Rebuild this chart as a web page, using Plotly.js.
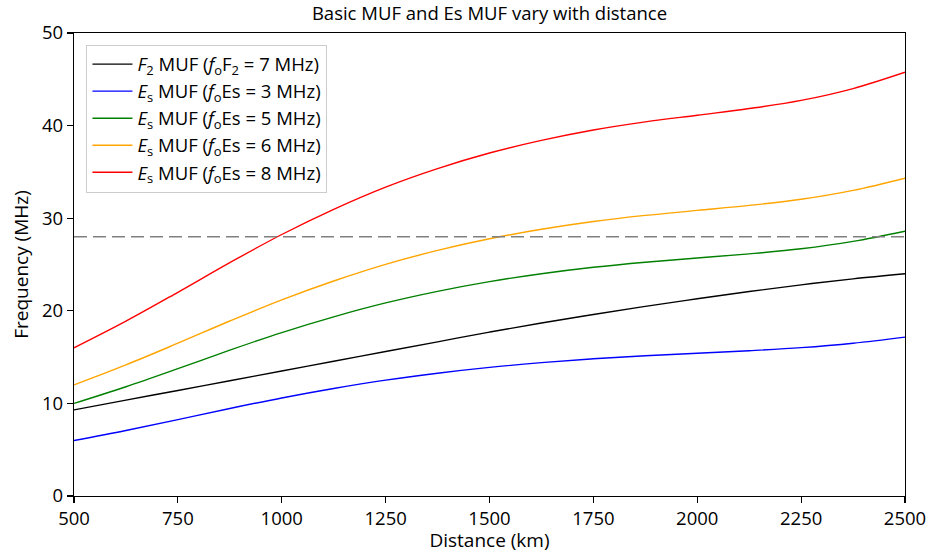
<!DOCTYPE html>
<html>
<head>
<meta charset="utf-8">
<script src="https://cdn.plot.ly/plotly-3.0.1.min.js"></script>
<style>html,body{margin:0;padding:0;background:#fff;}#chart{width:928px;height:553px;}</style>
</head>
<body>
<div id="chart"></div>
<script>
const distance = [500, 625, 750, 875, 1000, 1125, 1250, 1375, 1500, 1625, 1750, 1875, 2000, 2125, 2250, 2375, 2500];
const mufF2_7 = [9.3, 10.35, 11.4, 12.45, 13.5, 14.55, 15.6, 16.65, 17.7, 18.68, 19.6, 20.48, 21.3, 22.08, 22.8, 23.45, 24.0];
const mufEs_3 = [6.0, 7.08, 8.25, 9.45, 10.59, 11.61, 12.51, 13.26, 13.89, 14.4, 14.82, 15.15, 15.42, 15.69, 16.02, 16.5, 17.16];
const mufEs_5 = [10.0, 11.8, 13.75, 15.75, 17.65, 19.35, 20.85, 22.1, 23.15, 24.0, 24.7, 25.25, 25.7, 26.15, 26.7, 27.5, 28.6];
const mufEs_6 = [12.0, 14.16, 16.5, 18.9, 21.18, 23.22, 25.02, 26.52, 27.78, 28.8, 29.64, 30.3, 30.84, 31.38, 32.04, 33.0, 34.32];
const mufEs_8 = [16.0, 18.88, 22.0, 25.2, 28.24, 30.96, 33.36, 35.36, 37.04, 38.4, 39.52, 40.4, 41.12, 41.84, 42.72, 44.0, 45.76];
const refLineX = [500, 2500];
const refLineY = [28, 28];
const xTicks = [500, 750, 1000, 1250, 1500, 1750, 2000, 2250, 2500];
const yTicks = [0, 10, 20, 30, 40, 50];
const seriesNames = [
  '<i>F</i><sub>2</sub> MUF (<i>f</i><sub>o</sub>F<sub>2</sub> = 7 MHz)',
  '<i>E</i><sub>s</sub> MUF (<i>f</i><sub>o</sub>Es = 3 MHz)',
  '<i>E</i><sub>s</sub> MUF (<i>f</i><sub>o</sub>Es = 5 MHz)',
  '<i>E</i><sub>s</sub> MUF (<i>f</i><sub>o</sub>Es = 6 MHz)',
  '<i>E</i><sub>s</sub> MUF (<i>f</i><sub>o</sub>Es = 8 MHz)'
];
const seriesColors = ['#000000', '#0000ff', '#008000', '#ffa500', '#ff0000'];
const seriesData = [mufF2_7, mufEs_3, mufEs_5, mufEs_6, mufEs_8];

const font = 'Open Sans, Noto Sans, sans-serif';
const traces = seriesData.map((ys, i) => ({
  x: distance, y: ys, type: 'scatter', mode: 'lines', name: seriesNames[i],
  line: {color: seriesColors[i], width: 1.4, shape: 'spline', smoothing: 1}
}));
traces.push({
  x: refLineX, y: refLineY, type: 'scatter', mode: 'lines', showlegend: false,
  line: {color: '#808080', width: 1.4, dash: '13px,6px'}, hoverinfo: 'skip'
});

const layout = {
  width: 928, height: 553,
  margin: {l: 74, r: 23, t: 33, b: 57},
  paper_bgcolor: '#fff', plot_bgcolor: '#fff',
  font: {family: font, size: 19, color: '#000'},
  title: {text: 'Basic MUF and Es MUF vary with distance', font: {family: font, size: 18.5, color: '#000'},
          x: 0.5, xref: 'paper', xanchor: 'center', yref: 'container', y: 0.975, yanchor: 'middle'},
  xaxis: {
    range: [500, 2500], tickvals: xTicks,
    showgrid: false, zeroline: false, showline: true, linecolor: '#000', linewidth: 1.2, mirror: true,
    ticks: 'outside', ticklen: 6, tickwidth: 1.2, tickcolor: '#000',
    tickfont: {family: font, size: 18.5},
    title: {text: 'Distance (km)', font: {family: font, size: 19}, standoff: 7}
  },
  yaxis: {
    range: [0, 50], tickvals: yTicks,
    showgrid: false, zeroline: false, showline: true, linecolor: '#000', linewidth: 1.2, mirror: true,
    ticks: 'outside', ticklen: 6, tickwidth: 1.2, tickcolor: '#000',
    tickfont: {family: font, size: 18.5},
    title: {text: 'Frequency (MHz)', font: {family: font, size: 19}, standoff: 8}
  },
  legend: {
    x: 0.015, y: 0.975, xanchor: 'left', yanchor: 'top',
    bgcolor: 'rgba(255,255,255,0.8)', bordercolor: '#cccccc', borderwidth: 1,
    font: {family: font, size: 18.5}, tracegroupgap: 0, itemwidth: 40
  },
  showlegend: true
};
Plotly.newPlot('chart', traces, layout, {displayModeBar: false, staticPlot: true});
</script>
</body>
</html>
